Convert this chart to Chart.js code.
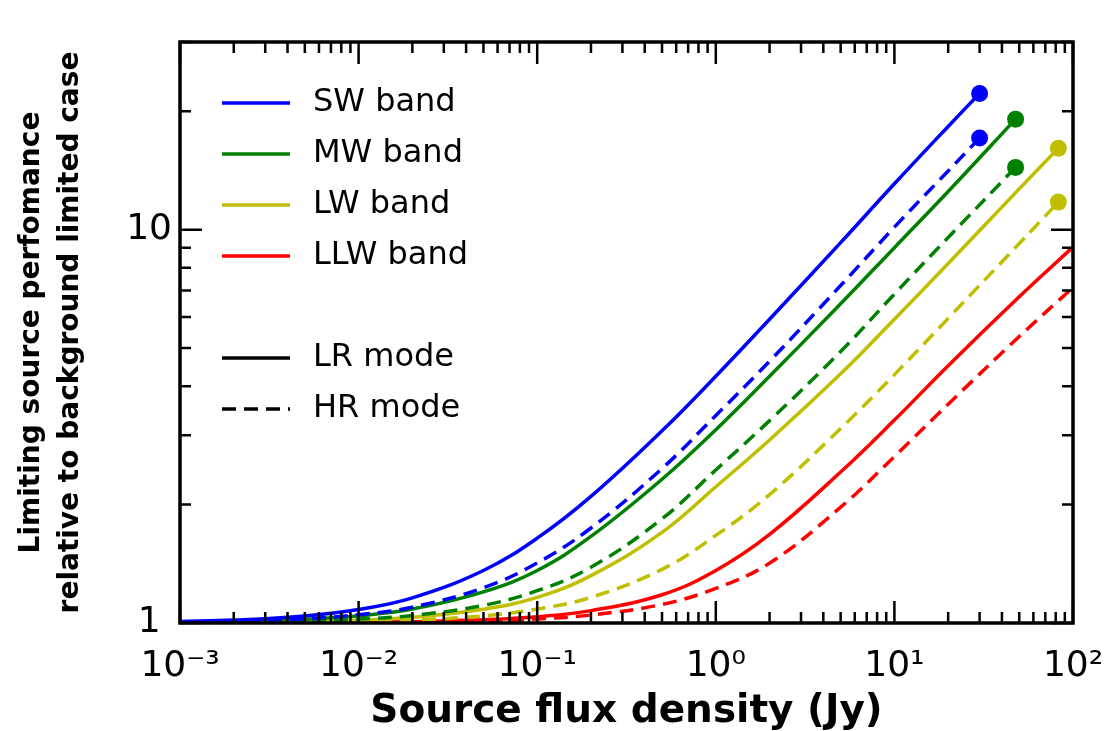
<!DOCTYPE html>
<html>
<head>
<meta charset="utf-8">
<script src="https://cdn.jsdelivr.net/npm/chart.js@4.4.1/dist/chart.umd.min.js"></script>
<style>
  html, body { margin: 0; padding: 0; background: #ffffff; }
  #wrap { width: 1107px; height: 731px; }
</style>
</head>
<body>
<div id="wrap"><canvas id="c" width="1107" height="731"></canvas></div>
<script>
// ---- Data ----
const fluxSW  = [0.001, 0.002, 0.005, 0.01, 0.02, 0.05, 0.1, 0.2, 0.5, 1, 2, 5, 10, 20, 30];
const fluxMW  = [0.001, 0.002, 0.005, 0.01, 0.02, 0.05, 0.1, 0.2, 0.5, 1, 2, 5, 10, 20, 47.7];
const fluxLW  = [0.001, 0.002, 0.005, 0.01, 0.02, 0.05, 0.1, 0.2, 0.5, 1, 2, 5, 10, 20, 50, 82.8];
const fluxLLW = [0.001, 0.002, 0.005, 0.01, 0.02, 0.05, 0.1, 0.2, 0.5, 1, 2, 5, 10, 20, 50, 100];

const swLR  = [1.0085, 1.017, 1.042, 1.082, 1.158, 1.36, 1.643, 2.098, 3.08, 4.24, 5.92, 9.27, 13.08, 18.3, 22.2];
const swHR  = [1.005, 1.010, 1.025, 1.050, 1.097, 1.229, 1.421, 1.744, 2.47, 3.37, 4.63, 7.21, 10.15, 14.1, 17.1];
const mwLR  = [1.004, 1.009, 1.022, 1.043, 1.085, 1.20, 1.36, 1.66, 2.32, 3.1, 4.24, 6.48, 9.0, 12.5, 19.1];
const mwHR  = [1.002, 1.005, 1.011, 1.023, 1.045, 1.109, 1.208, 1.386, 1.84, 2.45, 3.27, 4.90, 6.86, 9.55, 14.4];
const lwLR  = [1.002, 1.0035, 1.0087, 1.017, 1.034, 1.084, 1.162, 1.32, 1.70, 2.22, 2.92, 4.3, 5.92, 8.2, 12.7, 16.1];
const lwHR  = [1.001, 1.002, 1.0044, 1.0087, 1.017, 1.043, 1.085, 1.162, 1.369, 1.67, 2.121, 3.122, 4.28, 5.95, 9.22, 11.75];
const llwLR = [1.0004, 1.0008, 1.002, 1.004, 1.008, 1.019, 1.037, 1.075, 1.18, 1.36, 1.68, 2.42, 3.28, 4.51, 6.75, 9.03];
const llwHR = [1.0002, 1.0005, 1.0012, 1.0025, 1.005, 1.012, 1.024, 1.048, 1.115, 1.225, 1.42, 1.97, 2.65, 3.6, 5.35, 7.13];

const bandLabels = ['SW band', 'MW band', 'LW band', 'LLW band'];
const modeLabels = ['LR mode', 'HR mode'];
const xTickValues = [0.001, 0.01, 0.1, 1, 10, 100];
const xTickLabels = ['10\u207B\u00B3', '10\u207B\u00B2', '10\u207B\u00B9', '10\u2070', '10\u00B9', '10\u00B2'];
const yTickValues = [1, 10];
const yTickLabels = ['1', '10'];
const xTitle = 'Source flux density (Jy)';
const yTitle = ['Limiting source perfomance', 'relative to background limited case'];

// ---- Styles ----
const colors = ['#0000ff', '#008000', '#bfbf00', '#ff0000'];
const DASH = [14, 8];
const LW = 3.5;
const FONT = '"DejaVu Sans", "Liberation Sans", sans-serif';

function series(xs, ys) { return xs.map((x, i) => ({ x: x, y: ys[i] })); }
function mk(label, xs, ys, color, dashed, dot) {
  return {
    label: label,
    data: series(xs, ys),
    borderColor: color,
    backgroundColor: color,
    borderWidth: LW,
    borderDash: dashed ? DASH : [],
    borderCapStyle: 'butt',
    pointRadius: xs.map((_, i) => (dot && i === xs.length - 1) ? 8.5 : 0),
    pointBorderWidth: 0,
    pointHoverRadius: 0,
    tension: 0.4,
    fill: false
  };
}

const datasets = [
  mk('SW LR', fluxSW, swLR, colors[0], false, true),
  mk('SW HR', fluxSW, swHR, colors[0], true, true),
  mk('MW LR', fluxMW, mwLR, colors[1], false, true),
  mk('MW HR', fluxMW, mwHR, colors[1], true, true),
  mk('LW LR', fluxLW, lwLR, colors[2], false, true),
  mk('LW HR', fluxLW, lwHR, colors[2], true, true),
  mk('LLW LR', fluxLLW, llwLR, colors[3], false, false),
  mk('LLW HR', fluxLLW, llwHR, colors[3], true, false)
];
datasets.forEach((d, i) => { d.order = i; });

const frameAndLegend = {
  id: 'frameAndLegend',
  afterDraw(chart) {
    const ctx = chart.ctx;
    const { left, right, top, bottom } = chart.chartArea;
    const xs = chart.scales.x, ys = chart.scales.y;
    ctx.save();
    ctx.strokeStyle = '#000';
    ctx.lineCap = 'butt';
    ctx.lineWidth = 2.5;
    for (let k = -3; k <= 2; k++) {
      for (let m = 1; m <= 9; m++) {
        const v = m * Math.pow(10, k);
        if (v > 100.0001) break;
        const px = xs.getPixelForValue(v);
        const len = (m === 1) ? 22 : 11;
        ctx.beginPath();
        ctx.moveTo(px, bottom); ctx.lineTo(px, bottom - len);
        ctx.moveTo(px, top); ctx.lineTo(px, top + len);
        ctx.stroke();
      }
    }
    for (let k = 0; k <= 1; k++) {
      for (let m = 1; m <= 9; m++) {
        const v = m * Math.pow(10, k);
        if (v > 30.0001) break;
        const py = ys.getPixelForValue(v);
        const len = (m === 1) ? 22 : 11;
        ctx.beginPath();
        ctx.moveTo(left, py); ctx.lineTo(left + len, py);
        ctx.moveTo(right, py); ctx.lineTo(right - len, py);
        ctx.stroke();
      }
    }
    ctx.lineWidth = 3.5;
    ctx.strokeRect(left, top, right - left, bottom - top);

    // legend (inside the axes, no frame)
    const lx0 = left + 42, lx1 = left + 110, tx = left + 133;
    const rowY = [103, 154, 205, 256];
    ctx.font = '32px ' + FONT;
    ctx.textBaseline = 'middle';
    ctx.textAlign = 'left';
    ctx.fillStyle = '#000';
    ctx.lineWidth = LW;
    bandLabels.forEach((lab, i) => {
      ctx.strokeStyle = colors[i];
      ctx.setLineDash([]);
      ctx.beginPath(); ctx.moveTo(lx0, rowY[i]); ctx.lineTo(lx1, rowY[i]); ctx.stroke();
      ctx.fillText(lab, tx, rowY[i]);
    });
    const modeY = [358, 409];
    modeLabels.forEach((lab, i) => {
      ctx.strokeStyle = '#000';
      ctx.setLineDash(i === 0 ? [] : DASH);
      ctx.beginPath(); ctx.moveTo(lx0, modeY[i]); ctx.lineTo(lx1, modeY[i]); ctx.stroke();
      ctx.fillText(lab, tx, modeY[i]);
    });
    ctx.restore();
  }
};

new Chart(document.getElementById('c'), {
  type: 'line',
  data: { datasets: datasets },
  plugins: [frameAndLegend],
  options: {
    responsive: false,
    animation: false,
    events: [],
    layout: { padding: { top: 42, right: 34, left: 0, bottom: 0 } },
    plugins: { legend: { display: false }, tooltip: { enabled: false } },
    scales: {
      x: {
        type: 'logarithmic',
        position: 'bottom',
        min: 0.001,
        max: 100,
        grid: { display: false },
        border: { display: false },
        ticks: {
          autoSkip: false,
          maxRotation: 0,
          minRotation: 0,
          padding: 14,
          color: '#000',
          font: { family: FONT, size: 36 },
          callback: (v) => {
            const i = xTickValues.findIndex(t => Math.abs(Math.log10(t) - Math.log10(v)) < 1e-6);
            return i >= 0 ? xTickLabels[i] : '';
          }
        },
        afterBuildTicks: (s) => { s.ticks = xTickValues.map(v => ({ value: v })); },
        afterFit: (s) => { s.height = 108; s.paddingLeft = 0; s.paddingRight = 0; },
        title: {
          display: true,
          text: xTitle,
          color: '#000',
          font: { family: FONT, size: 39, weight: 'bold', lineHeight: 1.0 },
          padding: { top: 0, bottom: 0 }
        }
      },
      y: {
        type: 'logarithmic',
        position: 'left',
        min: 1,
        max: 30,
        grid: { display: false },
        border: { display: false },
        ticks: {
          autoSkip: false,
          crossAlign: 'center',
          padding: 0,
          color: '#000',
          font: { family: FONT, size: 36 },
          callback: (v) => {
            const i = yTickValues.findIndex(t => Math.abs(t - v) < 1e-6);
            return i >= 0 ? yTickLabels[i] : '';
          }
        },
        afterBuildTicks: (s) => { s.ticks = yTickValues.map(v => ({ value: v })); },
        afterFit: (s) => { s.width = 180; s.paddingTop = 0; s.paddingBottom = 0; },
        title: {
          display: true,
          text: yTitle,
          color: '#000',
          font: { family: FONT, size: 28, weight: 'bold', lineHeight: 1.39 },
          padding: { top: 12, bottom: 0 }
        }
      }
    }
  }
});
</script>
</body>
</html>
